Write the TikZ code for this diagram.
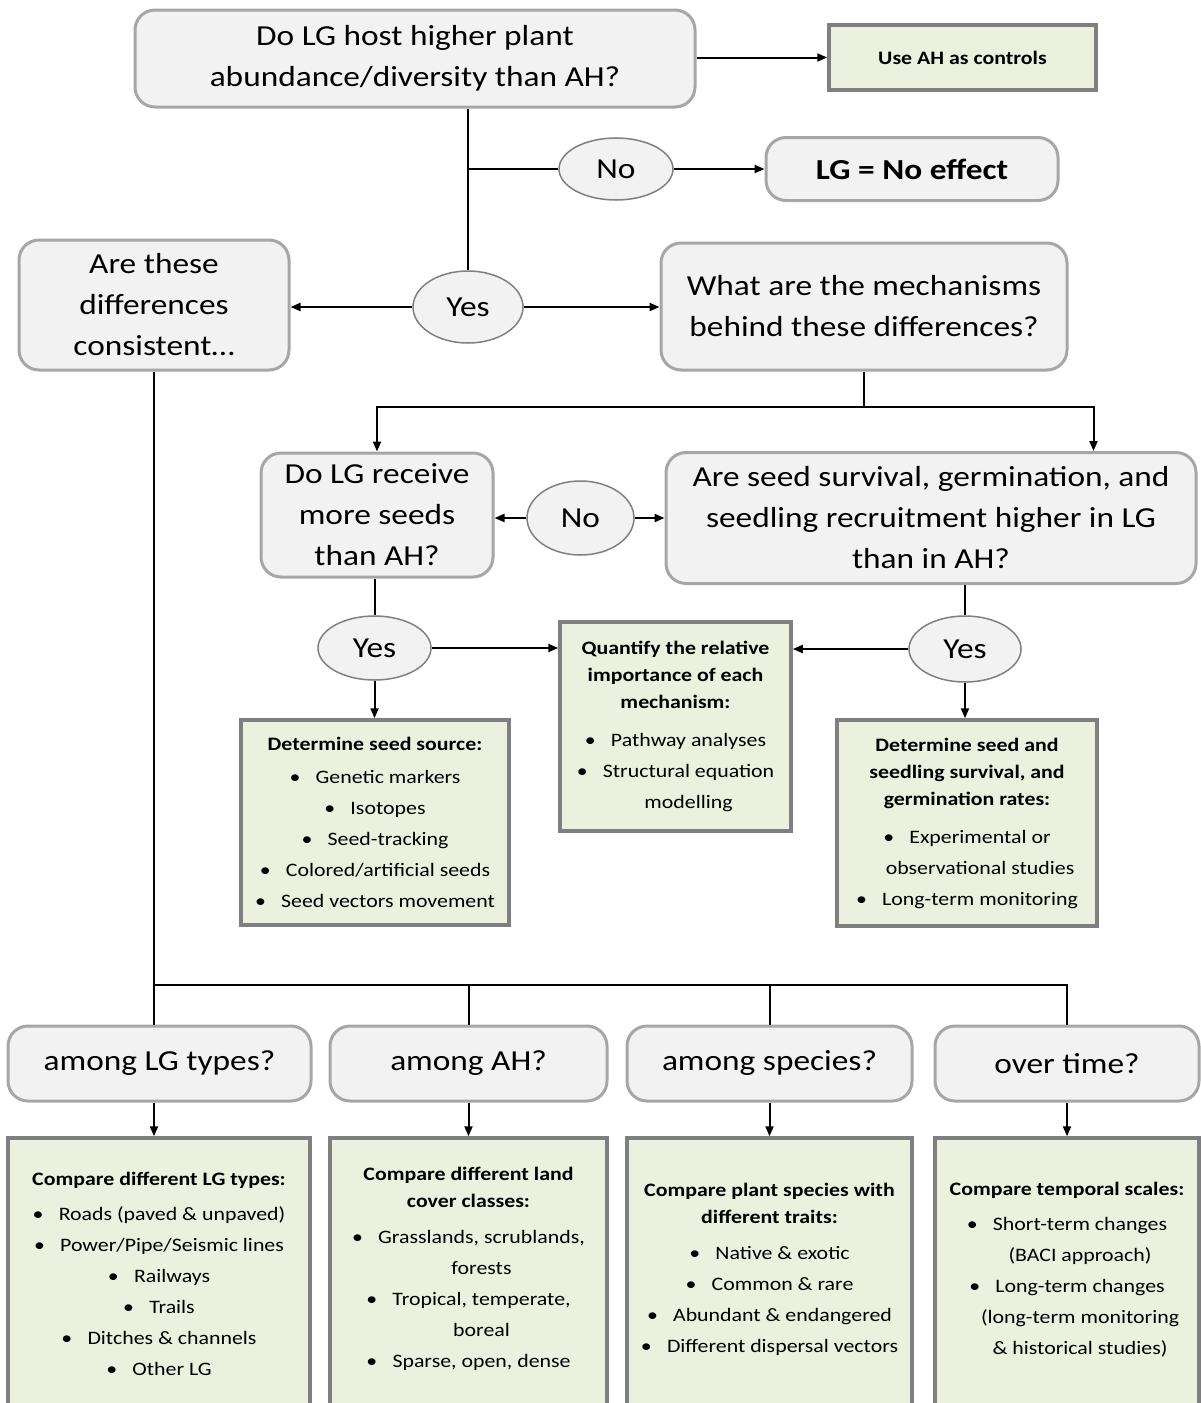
\documentclass[tikz,border=0pt]{standalone}
\usepackage{fontspec}
\setmainfont{Carlito}[FakeStretch=1.15]
\usetikzlibrary{shapes.geometric,arrows.meta}
\definecolor{qfill}{HTML}{F2F2F2}
\definecolor{qline}{HTML}{A6A6A6}
\definecolor{gfill}{HTML}{EBF1DE}
\definecolor{gline}{HTML}{7F7F7F}
\definecolor{aline}{HTML}{808080}
\newcommand\qfont{\fontsize{29}{41}\selectfont}
\newcommand\gfont{\fontsize{19}{31}\selectfont}
\newcommand\bul{\textbullet\hspace{0.8em}}
\newcommand\bulsp{\hphantom{\textbullet\hspace{0.8em}}}
\tikzset{
  sz/.style n args={2}{minimum width=#1pt, minimum height=#2pt},
  qbox/.style={draw=qline, fill=qfill, line width=3pt, rounded corners=20pt,
    align=center, inner sep=0pt, font=\qfont},
  gbox/.style={draw=gline, fill=gfill, line width=3.5pt,
    align=center, inner sep=0pt, font=\gfont},
  gtext/.style={align=center, inner sep=0pt, font=\gfont},
  ans/.style={ellipse, draw=aline, fill=qfill, line width=1.5pt,
    inner sep=0pt, font=\qfont},
  link/.style={line width=2pt},
  arr/.style={line width=2pt, -{Triangle[length=10pt,width=8pt]}},
}

\begin{document}
\begin{tikzpicture}[x=1pt, y=-1pt]
    \useasboundingbox (0,0) rectangle (1201,1403);
    \clip (0,0) rectangle (1201,1403);

    % First question and its answers
    \node[qbox, sz={560}{97}] (host) at (415,58.5) {Do LG host higher plant\\abundance/diversity than AH?};
    \node[gbox, sz={267}{65}, font=\gfont\bfseries] (ctrl) at (962.5,57.5) {Use AH as controls};
    \node[ans, sz={114}{62}] (no1) at (616,169) {No};
    \node[qbox, sz={292}{63}, font=\qfont\bfseries] (noeff) at (912,169) {LG = No effect};
    \node[ans, sz={110}{72}] (yes1) at (468,307) {Yes};
    \node[qbox, sz={270}{130}] (cons) at (154,305) {Are these\\differences\\consistent…};
    \node[qbox, sz={406}{127}] (mech) at (864,306.5) {What are the mechanisms\\behind these differences?};

    % Mechanisms
    \node[qbox, sz={232}{124}] (seeds) at (377,515) {Do LG receive\\more seeds\\than AH?};
    \node[ans, sz={107}{74}] (no2) at (580.5,518) {No};
    \node[qbox, sz={530}{131}] (surv) at (931,518) {Are seed survival, germination, and\\seedling recruitment higher in LG\\than in AH?};
    \node[ans, sz={113}{64}] (yes2) at (374.5,648) {Yes};
    \node[ans, sz={112}{66}] (yes3) at (965,649) {Yes};

    \node[gbox, sz={231}{209}] (quant) at (675.5,726.5) {\textbf{Quantify the relative}\\[-4pt]\textbf{importance of each}\\[-4pt]\textbf{mechanism:}\\[7pt]\bul Pathway analyses\\\bul Structural equation\\\bulsp modelling};
    \node[gbox, sz={268}{205}] (src) at (375,822.5) {\textbf{Determine seed source:}\\[2pt]\bul Genetic markers\\\bul Isotopes\\\bul Seed-tracking\\\bul Colored/artificial seeds\\\bul Seed vectors movement};
    \node[gbox, sz={260}{206}] (rates) at (967,823) {\textbf{Determine seed and}\\[-4pt]\textbf{seedling survival, and}\\[-4pt]\textbf{germination rates:}\\[7pt]\bul Experimental or\\\bulsp observational studies\\\bul Long-term monitoring};

    % Consistency questions
    \node[qbox, sz={303}{75}] (lgq) at (159.5,1063.5) {among LG types?};
    \node[qbox, sz={277}{75}] (ahq) at (468.5,1063.5) {among AH?};
    \node[qbox, sz={285}{75}] (spq) at (769.5,1063.5) {among species?};
    \node[qbox, sz={264}{75}] (otq) at (1067,1063.5) {over time?};

    \node[gbox, sz={302}{280}] (lgc) at (159,1278) {};
    \node[gbox, sz={277}{280}] (ahc) at (468.5,1278) {};
    \node[gbox, sz={285}{280}] (spc) at (769.5,1278) {};
    \node[gbox, sz={264}{280}] (otc) at (1067,1278) {};
    \node[gtext] (lgt) at (159,1274) {\textbf{Compare different LG types:}\\[4pt]\bul Roads (paved \& unpaved)\\\bul Power/Pipe/Seismic lines\\\bul Railways\\\bul Trails\\\bul Ditches \& channels\\\bul Other LG};
    \node[gtext] (aht) at (468.5,1269) {\textbf{Compare different land}\\[-4pt]\textbf{cover classes:}\\[5pt]\bul Grasslands, scrublands,\\\bulsp forests\\\bul Tropical, temperate,\\\bulsp boreal\\\bul Sparse, open, dense};
    \node[gtext] (spt) at (769.5,1269.5) {\textbf{Compare plant species with}\\[-4pt]\textbf{different traits:}\\[5pt]\bul Native \& exotic\\\bul Common \& rare\\\bul Abundant \& endangered\\\bul Different dispersal vectors};
    \node[gtext] (ott) at (1067,1269.5) {\textbf{Compare temporal scales:}\\[4pt]\bul Short-term changes\\\bulsp (BACI approach)\\\bul Long-term changes\\\bulsp (long-term monitoring\\\bulsp \& historical studies)};

    % Connectors
    \draw[link] (host.south -| yes1) -- (yes1.north);
    \draw[link] (no1.west -| yes1) -- (no1.west);
    \draw[arr] (host.east |- ctrl) -- (ctrl.west);
    \draw[arr] (no1.east) -- (noeff.west);
    \draw[arr] (yes1.west) -- (yes1.west -| cons.east);
    \draw[arr] (yes1.east) -- (yes1.east -| mech.west);

    \coordinate (fork) at (864,407);
    \draw[link] (mech.south) -- (fork);
    \draw[arr] (fork) -| (seeds.north);
    \draw[arr] (fork) -| ([xshift=-104pt]surv.north east);
    \draw[arr] (no2.west) -- (no2.west -| seeds.east);
    \draw[arr] (no2.east) -- (no2.east -| surv.west);
    \draw[link] (seeds.south -| yes2) -- (yes2.north);
    \draw[link] (surv.south -| yes3) -- (yes3.north);
    \draw[arr] (yes2.east) -- (yes2.east -| quant.west);
    \draw[arr] (yes3.west) -- (yes3.west -| quant.east);
    \draw[arr] (yes2.south) -- (yes2.south |- src.north);
    \draw[arr] (yes3.south) -- (yes3.south |- rates.north);

    \coordinate (bus) at (154,985);
    \draw[link] (cons.south) -- (cons.south |- lgq.north);
    \draw[link] (bus) -| (otq.north);
    \draw[link] (ahq.north |- bus) -- (ahq.north);
    \draw[link] (spq.north |- bus) -- (spq.north);
    \draw[arr] (lgq.south -| cons.south) -- (lgc.north -| cons.south);
    \draw[arr] (ahq.south) -- (ahc.north);
    \draw[arr] (spq.south) -- (spc.north);
    \draw[arr] (otq.south) -- (otc.north);
\end{tikzpicture}
\end{document}
